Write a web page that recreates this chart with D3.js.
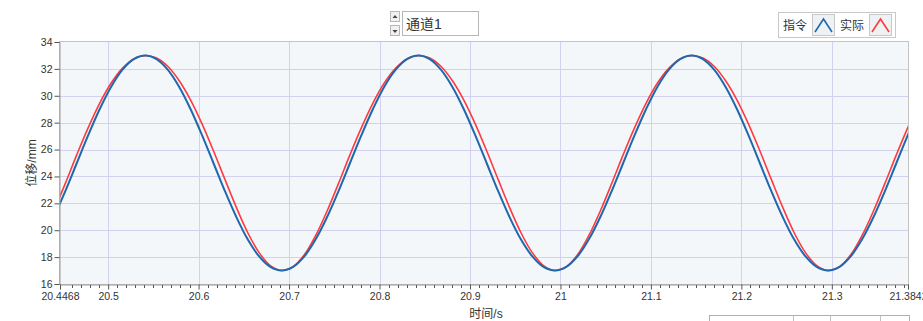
<!DOCTYPE html>
<html><head><meta charset="utf-8">
<script src="https://cdn.jsdelivr.net/npm/d3@7"></script>
<style>
html,body{margin:0;padding:0;background:#fff;overflow:hidden}
svg{display:block}
text{font-family:"Liberation Sans","Noto Sans CJK SC",sans-serif;fill:#333}
</style></head><body>
<svg id="c" width="923" height="321"></svg>
<script>
// ---- data ----
const times = [20.4402,20.4528,20.4654,20.4780,20.4906,20.5032,20.5157,20.5283,
20.5409,20.5535,20.5661,20.5786,20.5912,20.6038,20.6164,20.6290,20.6416,20.6541,20.6667,20.6793,20.6919,20.7045,20.7171,20.7296,20.7422,20.7548,20.7674,20.7800,20.7926,20.8051,20.8177,20.8303,
20.8429,20.8555,20.8681,20.8806,20.8932,20.9058,20.9184,20.9310,20.9436,20.9561,20.9687,20.9813,20.9939,21.0065,21.0191,21.0316,21.0442,21.0568,21.0694,21.0820,21.0946,21.1071,21.1197,21.1323,
21.1449,21.1575,21.1701,21.1826,21.1952,21.2078,21.2204,21.2330,21.2456,21.2581,21.2707,21.2833,21.2959,21.3085,21.3211,21.3336,21.3462,21.3588,21.3714,21.3840,21.3966];
const command = [21.00,22.93,25.00,27.07,29.00,30.66,31.93,32.73,
33.00,32.73,31.93,30.66,29.00,27.07,25.00,22.93,21.00,19.34,18.07,17.27,17.00,17.27,18.07,19.34,21.00,22.93,25.00,27.07,29.00,30.66,31.93,32.73,
33.00,32.73,31.93,30.66,29.00,27.07,25.00,22.93,21.00,19.34,18.07,17.27,17.00,17.27,18.07,19.34,21.00,22.93,25.00,27.07,29.00,30.66,31.93,32.73,
33.00,32.73,31.93,30.66,29.00,27.07,25.00,22.93,21.00,19.34,18.07,17.27,17.00,17.27,18.07,19.34,21.00,22.93,25.00,27.07,29.00];
const actual = [21.45,23.50,25.62,27.63,29.44,30.93,32.04,32.74,
33.00,32.81,32.18,31.12,29.68,27.91,25.91,23.80,21.72,19.85,18.35,17.37,17.00,17.29,18.19,19.63,21.45,23.50,25.62,27.63,29.44,30.93,32.04,32.74,
33.00,32.81,32.18,31.12,29.68,27.91,25.91,23.80,21.72,19.85,18.35,17.37,17.00,17.29,18.19,19.63,21.45,23.50,25.62,27.63,29.44,30.93,32.04,32.74,
33.00,32.81,32.18,31.12,29.68,27.91,25.91,23.80,21.72,19.85,18.35,17.37,17.00,17.29,18.19,19.63,21.45,23.50,25.62,27.63,29.44];
const xTicks = [20.4468,20.5,20.6,20.7,20.8,20.9,21,21.1,21.2,21.3,21.3842];
const xTickLabels = ["20.4468","20.5","20.6","20.7","20.8","20.9","21","21.1","21.2","21.3","21.3842"];
const yTicks = [16,18,20,22,24,26,28,30,32,34];
const seriesNames = ["指令","实际"];
const channelName = "通道1";
const xTitle = "时间/s", yTitle = "位移/mm";

// ---- layout ----
const L=60,R=908,T=42,B=284;
const svg=d3.select("#c");
const x=d3.scaleLinear().domain([20.4468,21.3842]).range([L,R]);
const y=d3.scaleLinear().domain([16,34]).range([B,T]);
const colors=["#2068ad","#ff3a3f"];

svg.append("rect").attr("x",L).attr("y",T).attr("width",R-L).attr("height",B-T).attr("fill","#f4f7f9");
// grid
svg.append("g").selectAll("line").data(xTicks.slice(1,-1)).join("line")
 .attr("x1",d=>Math.round(x(d))+0.5).attr("x2",d=>Math.round(x(d))+0.5).attr("y1",T).attr("y2",B)
 .attr("stroke","#d2d2f0").attr("stroke-width",1);
svg.append("g").selectAll("line").data(yTicks.slice(1,-1)).join("line")
 .attr("y1",d=>Math.round(y(d))+0.5).attr("y2",d=>Math.round(y(d))+0.5).attr("x1",L).attr("x2",R)
 .attr("stroke","#d2d2f0").attr("stroke-width",1);

// curves
svg.append("clipPath").attr("id","cp").append("rect").attr("x",L).attr("y",T-2).attr("width",R-L).attr("height",B-T+4);
const line=d3.line().x((d,i)=>x(times[i])).y(d=>y(d)).curve(d3.curveCatmullRom);
svg.append("path").datum(actual).attr("d",line).attr("fill","none").attr("stroke",colors[1]).attr("stroke-width",1.6).attr("clip-path","url(#cp)");
svg.append("path").datum(command).attr("d",line).attr("fill","none").attr("stroke",colors[0]).attr("stroke-width",2).attr("clip-path","url(#cp)");

// frame
svg.append("rect").attr("x",L-0.5).attr("y",T-0.5).attr("width",R-L+1).attr("height",B-T+1).attr("fill","none").attr("stroke","#c4c4c4");

// y axis
const ya=svg.append("g").attr("transform",`translate(${L-0.5},0)`)
 .call(d3.axisLeft(y).tickValues(yTicks).tickFormat(d3.format("d")).tickSize(5).tickPadding(2));
ya.select(".domain").attr("stroke","#9a9a9a");
ya.selectAll(".tick line").attr("stroke","#555");
ya.selectAll("text").style("font-size","10.5px").attr("fill","#333");

// x axis
const xa=svg.append("g").attr("transform",`translate(0,${B+0.5})`)
 .call(d3.axisBottom(x).tickValues(xTicks).tickFormat((d,i)=>xTickLabels[i]).tickSize(5).tickPadding(3));
xa.select(".domain").attr("stroke","#9a9a9a");
xa.selectAll(".tick line").attr("stroke","#555");
xa.selectAll("text").style("font-size","10.5px").attr("fill","#333");
const minor=d3.range(20.45,21.385,0.01).filter(v=>!xTicks.some(t=>Math.abs(t-v)<0.004));
svg.append("g").selectAll("line").data(minor).join("line")
 .attr("x1",d=>Math.round(x(d))+0.5).attr("x2",d=>Math.round(x(d))+0.5).attr("y1",B+1).attr("y2",B+4)
 .attr("stroke","#555");

// titles
svg.append("text").attr("x",(L+R)/2+2).attr("y",318).attr("text-anchor","middle").style("font-size","12px").text(xTitle);
svg.append("text").attr("transform",`translate(36,${(T+B)/2}) rotate(-90)`).attr("text-anchor","middle").style("font-size","12px").text(yTitle);

// channel selector
const cs=svg.append("g");
[[390,11],[390,25]].forEach((p,i)=>{
 cs.append("rect").attr("x",p[0]+0.5).attr("y",p[1]+0.5).attr("width",9).attr("height",10).attr("fill","#f0f0f0").attr("stroke","#b8b8b8");
 const cx=p[0]+5, cy=p[1]+6;
 cs.append("path").attr("d",i===0?`M${cx-2.5},${cy+1}L${cx+2.5},${cy+1}L${cx},${cy-2}Z`:`M${cx-2.5},${cy-1}L${cx+2.5},${cy-1}L${cx},${cy+2}Z`).attr("fill","#444");
});
cs.append("rect").attr("x",402.5).attr("y",11.5).attr("width",76).attr("height",24).attr("fill","#fff").attr("stroke","#b8b8b8");
cs.append("text").attr("x",406).attr("y",29).style("font-size","14px").attr("fill","#222").text(channelName);

// legend
const lg=svg.append("g");
lg.append("rect").attr("x",778.5).attr("y",12.5).attr("width",117).attr("height",25).attr("fill","#fff").attr("stroke","#c8c8c8");
const lx=[783,840];
seriesNames.forEach((n,i)=>{
 lg.append("text").attr("x",lx[i]).attr("y",30).style("font-size","12px").attr("fill","#222").text(n);
 const bx=lx[i]+29;
 lg.append("rect").attr("x",bx+0.5).attr("y",14.5).attr("width",22).attr("height",21).attr("fill","#eef2f5").attr("stroke","#c8c8c8");
 lg.append("path").attr("d",`M${bx+3},${32}L${bx+11.5},${19}L${bx+20},${32}`).attr("fill","none").attr("stroke",colors[i]).attr("stroke-width",1.6);
});

// partial panel at bottom right
const bp=svg.append("g");
bp.append("rect").attr("x",709.5).attr("y",315.5).attr("width",200).attr("height",10).attr("fill","#fff").attr("stroke","#b0b0b0");
[793,830,880].forEach(v=>bp.append("line").attr("x1",v+0.5).attr("x2",v+0.5).attr("y1",316).attr("y2",321).attr("stroke","#c0c0c0"));
</script>
</body></html>
